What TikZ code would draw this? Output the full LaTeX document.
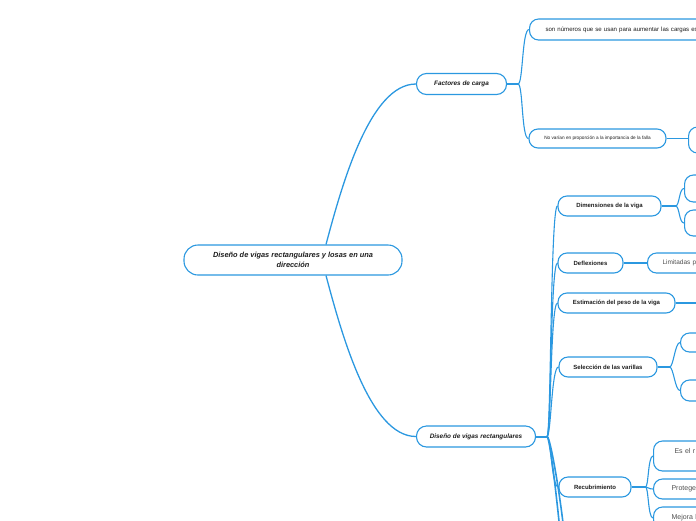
\documentclass[tikz,border=0pt]{standalone}
\usepackage{fontspec}
\setmainfont{Liberation Sans}
\definecolor{mmblue}{RGB}{43,152,224}
\definecolor{mmtext}{RGB}{30,30,30}
\definecolor{mmgray}{RGB}{80,80,80}
\tikzset{
  mmbox/.style={draw=mmblue, line width=1.1pt, rounded corners=9pt, fill=white, text=mmtext, inner sep=2pt},
  central/.style={mmbox, rounded corners=14pt, align=center,
    font=\fontsize{7.4}{9.5}\selectfont\bfseries\itshape},
  tema/.style={mmbox, rounded corners=10pt, minimum height=21,
    font=\fontsize{6.4}{7.5}\selectfont\bfseries\itshape},
  subtema/.style={mmbox, minimum height=20,
    font=\fontsize{6}{7}\selectfont\bfseries},
  hoja/.style={mmbox, anchor=west, align=left, text width=110pt, text=mmgray,
    font=\fontsize{7}{9}\selectfont},
  vacio/.style={mmbox, anchor=west, minimum width=60},
  rama/.style={draw=mmblue, line width=1.1pt},
  tronco/.style={draw=mmblue, line width=2pt},
}
\begin{document}
\begin{tikzpicture}[x=1pt, y=-1pt]
  \useasboundingbox (0,0) rectangle (696,520);
  \clip (0,0) rectangle (696,520);
  % Tema central
  \node[central, minimum width=218, minimum height=30] (raiz) at (293,260)
    {Diseño de vigas rectangulares y losas en una\\dirección};
  % Primer nivel
  \node[tema, minimum width=90] (factores) at (461.5,84) {Factores de carga};
  \node[tema, minimum width=119] (vigas) at (476,436.5) {Diseño de vigas rectangulares};
  \draw[rama, line width=1.3pt] ([xshift=33]raiz.north) .. controls +(16,-60) and +(-46,0) .. (factores.west);
  \draw[rama, line width=1.3pt] ([xshift=33]raiz.south) .. controls +(16,60) and +(-46,0) .. (vigas.west);

  % Factores de carga
  \node[hoja, font=\fontsize{6.1}{7}\selectfont, text=mmtext, text width=260pt, inner xsep=16, minimum height=21]
    (numeros) at (529,29.5) {son números que se usan para aumentar las cargas est};
  \node[subtema, font=\fontsize{4.7}{6}\selectfont, text=mmtext, minimum width=137, minimum height=19]
    (varian) at (597.5,138.5) {No varían en proporción a la importancia de la falla};
  \node[vacio, minimum height=26] (falla) at (688,140) {};
  \coordinate (ffac) at ([xshift=11]factores.east);
  \draw[tronco] (factores.east) -- (ffac);
  \draw[rama] (ffac) .. controls +(5,0) and +(-7,0) .. (numeros.west);
  \draw[rama] (ffac) .. controls +(5,0) and +(-7,0) .. (varian.west);
  \draw[tronco, line width=1.6pt] (varian.east) -- (falla.west |- varian.east);

  % Diseño de vigas rectangulares
  \node[subtema, minimum width=103] (dimensiones) at (609.5,206) {Dimensiones de la viga};
  \node[subtema, minimum width=65] (deflexiones) at (590.5,263) {Deflexiones};
  \node[subtema, minimum width=117] (estimacion) at (616.5,303) {Estimación del peso de la viga};
  \node[subtema, minimum width=98] (seleccion) at (608,367) {Selección de las varillas};
  \node[subtema, minimum width=72] (recubrimiento) at (595,487) {Recubrimiento};
  \coordinate (masA) at (566,560);
  \coordinate (masB) at (566,610);
  \coordinate (fvig) at ([xshift=11]vigas.east);
  \draw[tronco] (vigas.east) -- (fvig);
  \foreach \hijo in {dimensiones, deflexiones, estimacion, seleccion, recubrimiento}
    \draw[rama] (fvig) .. controls +(4,0) and +(-7,0) .. (\hijo.west);
  \draw[rama, line width=1.6pt] (fvig) .. controls +(4,0) and +(0,-30) .. (masA);
  \draw[rama, line width=1.6pt] (fvig) .. controls +(4,0) and +(0,-30) .. (masB);

  % Dimensiones de la viga
  \node[vacio, minimum height=27] (dimA) at (684,188.5) {};
  \node[vacio, minimum height=26] (dimB) at (684,223) {};
  \coordinate (fdim) at ([xshift=14]dimensiones.east);
  \draw[tronco] (dimensiones.east) -- (fdim);
  \draw[rama] (fdim) .. controls +(4,0) and +(-5,0) .. (dimA.west);
  \draw[rama] (fdim) .. controls +(4,0) and +(-5,0) .. (dimB.west);

  % Deflexiones
  \node[hoja, font=\fontsize{6.5}{8}\selectfont, inner xsep=15, minimum height=20]
    (limitadas) at (647,263) {Limitadas p};
  \draw[tronco, line width=1.6pt] (deflexiones.east) -- (limitadas.west);

  % Estimación del peso
  \coordinate (fest) at (720,303);
  \draw[tronco, line width=1.6pt] (estimacion.east) -- (fest);

  % Selección de las varillas
  \node[vacio, minimum height=19] (selA) at (680,342.5) {};
  \node[vacio, minimum height=21] (selB) at (680,390.5) {};
  \coordinate (fsel) at ([xshift=12]seleccion.east);
  \draw[tronco] (seleccion.east) -- (fsel);
  \draw[rama] (fsel) .. controls +(4,0) and +(-5,0) .. (selA.west);
  \draw[rama] (fsel) .. controls +(4,0) and +(-5,0) .. (selB.west);

  % Recubrimiento
  \node[hoja, inner xsep=21, minimum height=30] (esel) at (653,456) {Es el r\\[1pt]\mbox{}};
  \node[hoja, inner xsep=18, minimum height=20] (protege) at (653,489) {Protege};
  \node[hoja, inner xsep=18, minimum height=22] (mejora) at (653,518) {Mejora l};
  \coordinate (frec) at ([xshift=14]recubrimiento.east);
  \draw[tronco] (recubrimiento.east) -- (frec);
  \foreach \hijo in {esel, protege, mejora}
    \draw[rama] (frec) .. controls +(3,0) and +(-5,0) .. (\hijo.west);
\end{tikzpicture}
\end{document}
